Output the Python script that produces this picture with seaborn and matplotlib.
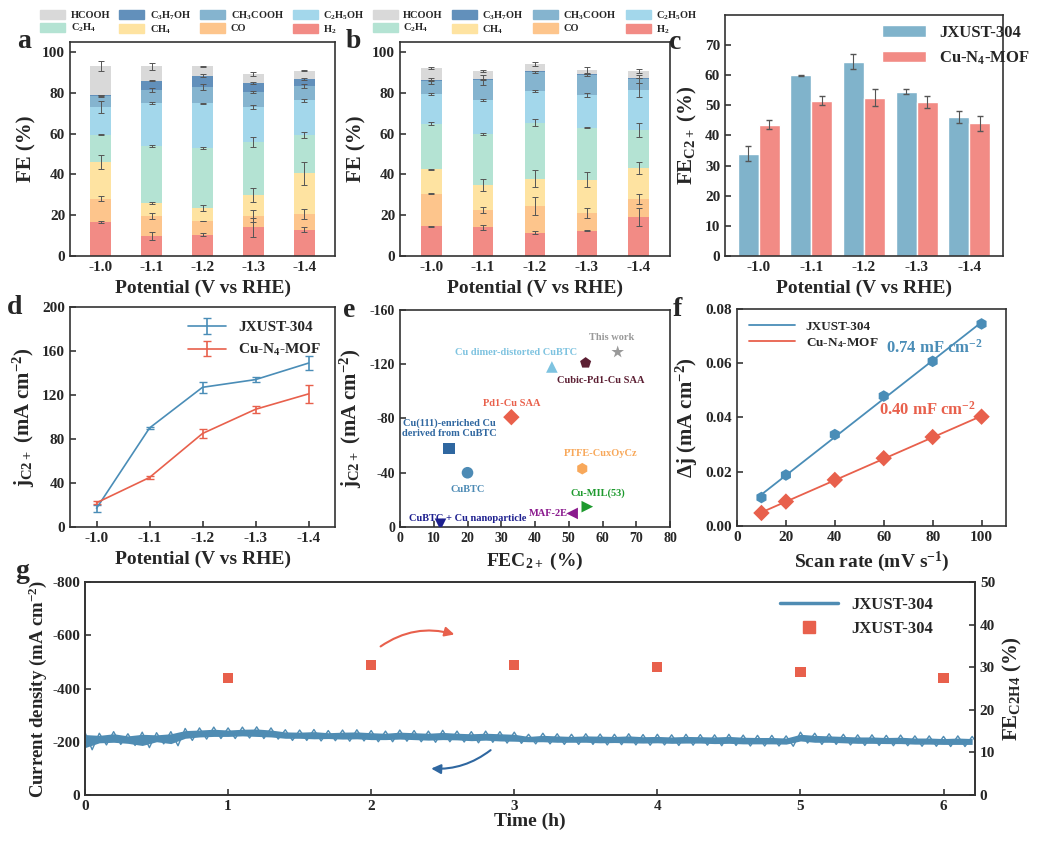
import matplotlib
matplotlib.use("Agg")
import matplotlib.pyplot as plt
import seaborn as sns
import numpy as np
import pandas as pd
from matplotlib.patches import Patch, FancyArrowPatch
from matplotlib.lines import Line2D

sns.set_theme(style="ticks")
plt.rcParams["font.family"] = ["Liberation Serif", "DejaVu Serif"]
plt.rcParams["font.weight"] = "bold"
plt.rcParams["axes.labelweight"] = "bold"
plt.rcParams["mathtext.fontset"] = "custom"
plt.rcParams["mathtext.rm"] = "Liberation Serif:bold"
plt.rcParams["mathtext.bf"] = "Liberation Serif:bold"
plt.rcParams["mathtext.it"] = "Liberation Serif:bold"
plt.rcParams["mathtext.default"] = "bf"
plt.rcParams["axes.unicode_minus"] = False

W, H = 1039, 849

# ---- data ----
potentials = ["-1.0", "-1.1", "-1.2", "-1.3", "-1.4"]
products = ["H$_2$", "CO", "CH$_4$", "C$_2$H$_4$", "C$_2$H$_5$OH", "CH$_3$COOH", "C$_3$H$_7$OH", "HCOOH"]
prod_colors = ["#F28B85", "#FDC58C", "#FEE3A1", "#B4E3D3", "#A3D7EB", "#85B4CF", "#6290BB", "#D9D9D9"]

# panel a: FE per product (rows = products, cols = potentials)
fe_a = [
    [16.5, 10.0, 10.5, 14.0, 13.0],
    [11.5, 9.5, 6.5, 5.5, 7.5],
    [18.0, 6.5, 6.5, 10.5, 20.0],
    [13.5, 28.0, 29.5, 26.0, 19.0],
    [13.5, 21.0, 22.0, 17.0, 17.0],
    [5.5, 6.5, 8.0, 7.5, 7.0],
    [0.3, 4.5, 5.5, 4.5, 3.5],
    [14.5, 7.0, 4.5, 4.5, 4.0],
]
err_a = [
    [0.5, 2.0, 0.7, 4.5, 1.0],
    [1.2, 1.5, 0.0, 3.0, 2.5],
    [3.5, 0.7, 1.5, 3.5, 5.5],
    [0.3, 0.3, 0.7, 2.5, 1.5],
    [3.0, 0.5, 0.3, 1.0, 0.7],
    [0.3, 1.0, 1.5, 0.3, 1.0],
    [0.3, 0.3, 0.7, 0.5, 0.5],
    [2.5, 1.5, 0.3, 1.0, 0.3],
]
# panel b
fe_b = [
    [14.5, 14.0, 11.5, 12.5, 19.0],
    [16.0, 8.5, 13.0, 8.5, 9.0],
    [12.0, 12.5, 13.5, 16.5, 15.0],
    [22.5, 25.0, 27.5, 25.5, 19.0],
    [14.5, 16.5, 15.5, 16.0, 19.5],
    [6.5, 10.0, 9.5, 10.0, 5.5],
    [0.2, 0.2, 0.2, 0.2, 0.2],
    [6.0, 4.0, 3.5, 2.0, 3.5],
]
err_b = [
    [0.2, 1.0, 0.8, 0.3, 4.5],
    [0.2, 1.5, 4.5, 2.5, 2.5],
    [0.3, 3.0, 4.0, 3.5, 3.0],
    [0.8, 0.5, 1.5, 0.3, 3.5],
    [0.3, 0.5, 0.5, 0.8, 3.5],
    [1.5, 2.5, 0.5, 0.5, 2.0],
    [0.1, 0.1, 0.1, 0.1, 0.1],
    [0.3, 0.5, 1.0, 1.5, 1.0],
]

fec2_jx = [34.0, 60.0, 64.5, 54.5, 46.0]
fec2_jx_err = [2.5, 0.2, 2.5, 0.8, 2.0]
fec2_cu = [43.5, 51.5, 52.5, 51.0, 44.0]
fec2_cu_err = [1.5, 1.5, 2.8, 2.0, 2.5]

pot_num = [-1.0, -1.1, -1.2, -1.3, -1.4]
jc2_jx = [17.0, 90.0, 127.0, 134.0, 149.0]
jc2_jx_err = [3.0, 0.5, 5.0, 2.0, 6.0]
jc2_cu = [22.0, 45.0, 85.0, 107.0, 121.0]
jc2_cu_err = [1.5, 1.0, 4.0, 3.0, 8.0]

lit_names = ["This work", "Cu dimer-distorted CuBTC", "Cubic-Pd1-Cu SAA", "Pd1-Cu SAA",
             "Cu(111)-enriched Cu\nderived from CuBTC", "CuBTC", "PTFE-CuxOyCz",
             "Cu-MIL(53)", "MAF-2E", "CuBTC + Cu nanoparticle"]
lit_fe = [64.5, 45.0, 55.0, 33.0, 14.5, 20.0, 54.0, 55.5, 51.0, 12.0]
lit_j = [-129.0, -118.0, -121.0, -81.0, -58.0, -40.0, -43.0, -15.0, -10.0, -2.0]
lit_markers = ["*", "^", "p", "D", "s", "o", "h", ">", "<", "v"]
lit_colors = ["#999999", "#7EC3E0", "#5C1F33", "#E9604B", "#2F67A0", "#4D8BB5",
              "#F8A85A", "#1E9A2E", "#8B1A8E", "#1D1F8F"]

scan_rate = [10, 20, 40, 60, 80, 100]
dj_jx = [0.0105, 0.0188, 0.0337, 0.0479, 0.0607, 0.0745]
dj_cu = [0.0048, 0.0090, 0.0170, 0.0250, 0.0328, 0.0403]

time_h = [i / 10 for i in range(63)]
cd_hi = [-235, -232, -238, -230, -236, -234, -238, -250, -252, -255, -252, -255, -256, -252,
         -245, -244, -246, -242, -244, -245, -242, -240, -244, -242, -240, -243, -240, -238,
         -240, -238, -236, -228, -232, -230, -228, -230, -229, -228, -230, -227, -228, -226,
         -228, -227, -226, -228, -225, -224, -224, -222, -236, -232, -230, -228, -226, -226,
         -224, -225, -222, -222, -220, -222, -220]
cd_lo = [-170, -188, -190, -186, -178, -192, -185, -205, -210, -212, -212, -214, -212, -210,
         -205, -205, -203, -204, -202, -203, -200, -200, -202, -200, -198, -200, -199, -196,
         -198, -195, -194, -192, -192, -190, -190, -190, -188, -189, -188, -187, -188, -186,
         -187, -187, -185, -186, -184, -184, -184, -183, -195, -190, -190, -188, -186, -186,
         -185, -185, -183, -183, -182, -182, -182]
fe_time = [1, 2, 3, 4, 5, 6]
fe_c2h4 = [27.5, 30.5, 30.5, 30.0, 28.8, 27.5]

BLUE = "#4A8DB7"
RED = "#E8604C"

fig = plt.figure(figsize=(W / 100, H / 100), dpi=100)


def ax_px(x0, y0, x1, y1):
    return fig.add_axes([x0 / W, 1 - y1 / H, (x1 - x0) / W, (y1 - y0) / H])


def style(ax, fs=11):
    for s in ax.spines.values():
        s.set_linewidth(1.2)
        s.set_color("#333333")
    ax.tick_params(direction="in", labelsize=fs, width=1.1, length=4)
    for lab in ax.get_xticklabels() + ax.get_yticklabels():
        lab.set_fontweight("bold")


def stacked(ax, vals, errs, letter):
    x = np.arange(len(potentials))
    bottom = np.zeros(len(potentials))
    for name, v, e, c in zip(products, vals, errs, prod_colors):
        v = np.array(v)
        ax.bar(x, v, bottom=bottom, width=0.4, color=c, edgecolor="none")
        ax.errorbar(x, bottom + v, yerr=e, fmt="none", ecolor="#555555",
                    elinewidth=0.7, capsize=2, capthick=0.7)
        bottom = bottom + v
    ax.set_xticks(x, potentials)
    ax.set_xlim(-0.6, 4.6)
    ax.set_ylim(0, 105)
    ax.set_yticks(range(0, 101, 20))
    ax.set_ylabel("FE (%)", fontsize=15)
    ax.set_xlabel("Potential (V vs RHE)", fontsize=14)
    style(ax)
    order = [7, 3, 6, 2, 5, 1, 4, 0]
    handles = [Patch(color=prod_colors[i], label=products[i]) for i in order]
    ax.legend(handles=handles, ncol=4, loc="lower center", bbox_to_anchor=(0.5, 1.0),
              frameon=False, fontsize=7.5, handlelength=2.4, handleheight=1.0,
              handletextpad=0.5, columnspacing=0.9, labelspacing=0.15, borderaxespad=0.2)
    ax.text(-0.2, 1.0, letter, transform=ax.transAxes, fontsize=20, fontweight="bold", va="center")


# a, b
ax_a = ax_px(70, 42, 335, 256)
stacked(ax_a, fe_a, err_a, "a")
ax_b = ax_px(400, 42, 670, 256)
stacked(ax_b, fe_b, err_b, "b")

# c
ax_c = ax_px(725, 15, 1003, 256)
dfc = pd.DataFrame({"Potential": potentials * 2, "FE": fec2_jx + fec2_cu,
                    "Sample": ["JXUST-304"] * 5 + ["Cu-N$_4$-MOF"] * 5})
sns.barplot(data=dfc, x="Potential", y="FE", hue="Sample", palette=["#80B3CB", "#F28B85"],
            ax=ax_c, width=0.8, saturation=1, errorbar=None)
xc = np.arange(5)
ax_c.errorbar(xc - 0.2, fec2_jx, yerr=fec2_jx_err, fmt="none", ecolor="#555555", elinewidth=0.8, capsize=2)
ax_c.errorbar(xc + 0.2, fec2_cu, yerr=fec2_cu_err, fmt="none", ecolor="#555555", elinewidth=0.8, capsize=2)
ax_c.set_ylim(0, 80)
ax_c.set_yticks(range(0, 71, 10))
ax_c.set_ylabel("FE$_{C2+}$ (%)", fontsize=15)
ax_c.set_xlabel("Potential (V vs RHE)", fontsize=14)
style(ax_c)
ax_c.legend(loc="upper left", frameon=False, fontsize=12, handlelength=2.6,
            bbox_to_anchor=(0.53, 1.0), borderaxespad=0.2)
ax_c.text(-0.2, 0.86, "c", transform=ax_c.transAxes, fontsize=20, fontweight="bold")

# d
ax_d = ax_px(70, 307, 335, 527)
ax_d.errorbar(pot_num, jc2_jx, yerr=jc2_jx_err, color=BLUE, lw=1.2, capsize=3, label="JXUST-304")
ax_d.errorbar(pot_num, jc2_cu, yerr=jc2_cu_err, color=RED, lw=1.2, capsize=3, label="Cu-N$_4$-MOF")
ax_d.set_xlim(-0.95, -1.45)
ax_d.set_xticks(pot_num, potentials)
ax_d.set_ylim(0, 200)
ax_d.set_yticks(range(0, 201, 40))
ax_d.set_ylabel("j$_{C2+}$ (mA cm$^{-2}$)", fontsize=15)
ax_d.set_xlabel("Potential (V vs RHE)", fontsize=14)
style(ax_d)
ax_d.legend(loc="upper right", frameon=False, fontsize=11, handlelength=2.5)
ax_d.text(-0.24, 0.97, "d", transform=ax_d.transAxes, fontsize=20, fontweight="bold")

# e
ax_e = ax_px(400, 310, 670, 527)
for n, fx, jy, m, c in zip(lit_names, lit_fe, lit_j, lit_markers, lit_colors):
    ax_e.scatter(fx, jy, marker=m, s=70 if m != "*" else 90, color=c, edgecolor="none", zorder=3)
label_pos = {
    "This work": (69.5, -140, "right"),
    "Cu dimer-distorted CuBTC": (34.5, -129, "center"),
    "Cubic-Pd1-Cu SAA": (59.5, -108, "center"),
    "Pd1-Cu SAA": (33.0, -91, "center"),
    "Cu(111)-enriched Cu\nderived from CuBTC": (14.5, -73, "center"),
    "CuBTC": (20.0, -28, "center"),
    "PTFE-CuxOyCz": (59.5, -54, "center"),
    "Cu-MIL(53)": (58.5, -25, "center"),
    "MAF-2E": (44.0, -10, "center"),
    "CuBTC + Cu nanoparticle": (20.0, -6, "center"),
}
for n, c in zip(lit_names, lit_colors):
    lx, ly, ha = label_pos[n]
    ax_e.text(lx, ly, n, color=c, fontsize=7.5, fontweight="bold", ha=ha, va="center",
              linespacing=1.1)
ax_e.set_xlim(0, 80)
ax_e.set_ylim(0, -160)
ax_e.set_yticks(range(0, -161, -40))
ax_e.set_xticks(range(0, 81, 10))
ax_e.set_ylabel("j$_{C2+}$ (mA cm$^{-2}$)", fontsize=15)
ax_e.set_xlabel("FEC$_{2+}$ (%)", fontsize=14)
style(ax_e, 10)
ax_e.text(-0.21, 0.97, "e", transform=ax_e.transAxes, fontsize=20, fontweight="bold")

# f
ax_f = ax_px(737, 309, 1006, 526)
for dj, c, m, lab in [(dj_jx, BLUE, "h", "JXUST-304"), (dj_cu, RED, "D", "Cu-N$_4$-MOF")]:
    k, b = np.polyfit(scan_rate, dj, 1)
    xs = np.array([scan_rate[0], scan_rate[-1]])
    ax_f.plot(xs, k * xs + b, color=c, lw=1.3, label=lab)
    sns.scatterplot(x=scan_rate, y=dj, marker=m, s=70, color=c, edgecolor="none", ax=ax_f, zorder=3)
ax_f.text(61, 0.064, "0.74 mF cm$^{-2}$", color=BLUE, fontsize=12, fontweight="bold", ha="left")
ax_f.text(78, 0.041, "0.40 mF cm$^{-2}$", color=RED, fontsize=12, fontweight="bold", ha="center")
ax_f.set_xlim(0, 110)
ax_f.set_ylim(0, 0.08)
ax_f.set_yticks(np.arange(0, 0.081, 0.02))
ax_f.set_yticklabels([f"{v:.2f}" for v in np.arange(0, 0.081, 0.02)])
ax_f.set_xticks(range(0, 101, 20))
ax_f.set_ylabel("Δj (mA cm$^{-2}$)", fontsize=15)
ax_f.set_xlabel("Scan rate (mV s$^{-1}$)", fontsize=14)
style(ax_f)
ax_f.legend(loc="upper left", frameon=False, fontsize=9.5, handlelength=3.5, labelspacing=0.2)
ax_f.text(-0.24, 0.97, "f", transform=ax_f.transAxes, fontsize=20, fontweight="bold")

# g
ax_g = ax_px(85, 582, 975, 795)
zig_t, zig_v = [], []
for t, hi, lo in zip(time_h, cd_hi, cd_lo):
    zig_t += [t, t + 0.05]
    zig_v += [hi, lo]
ax_g.fill_between(time_h, [l - 8 for l in cd_lo], [h + 8 for h in cd_hi], color="#4F8CB3", lw=0)
sns.lineplot(x=zig_t, y=zig_v, color="#4F8CB3", lw=1.0, ax=ax_g)
ax_g.set_xlim(0, 6.22)
ax_g.set_ylim(0, -800)
ax_g.set_yticks(range(0, -801, -200))
ax_g.set_xticks(range(0, 7))
ax_g.set_ylabel("Current density (mA cm$^{-2}$)", fontsize=13.5, labelpad=2)
ax_g.set_xlabel("Time (h)", fontsize=14, labelpad=0)
style(ax_g)
ax_g2 = ax_g.twinx()
sns.scatterplot(x=fe_time, y=fe_c2h4, marker="s", s=55, color="#E8604C", edgecolor="none", ax=ax_g2)
ax_g2.set_ylim(0, 50)
ax_g2.set_yticks(range(0, 51, 10))
ax_g2.set_ylabel("FE$_{C2H4}$ (%)", fontsize=15)
style(ax_g2)
lh = [Line2D([], [], color="#4F8CB3", lw=2.5, label="JXUST-304"),
      Line2D([], [], marker="s", ls="none", color="#E8604C", ms=8, label="JXUST-304")]
ax_g2.legend(handles=lh, loc="upper right", frameon=False, fontsize=12, handlelength=3.5,
             bbox_to_anchor=(0.97, 1.0))
ax_g.add_patch(FancyArrowPatch((2.85, -175), (2.4, -100), connectionstyle="arc3,rad=-0.2",
                               arrowstyle="-|>", mutation_scale=14, color="#2F67A0", lw=1.5))
ax_g2.add_patch(FancyArrowPatch((2.05, 34.5), (2.6, 37.5), connectionstyle="arc3,rad=-0.25",
                                arrowstyle="-|>", mutation_scale=14, color="#E8604C", lw=1.5))
fig.text(15 / W, 1 - 578 / H, "g", fontsize=20, fontweight="bold")

fig.savefig("out.png", dpi=100, facecolor="white")
